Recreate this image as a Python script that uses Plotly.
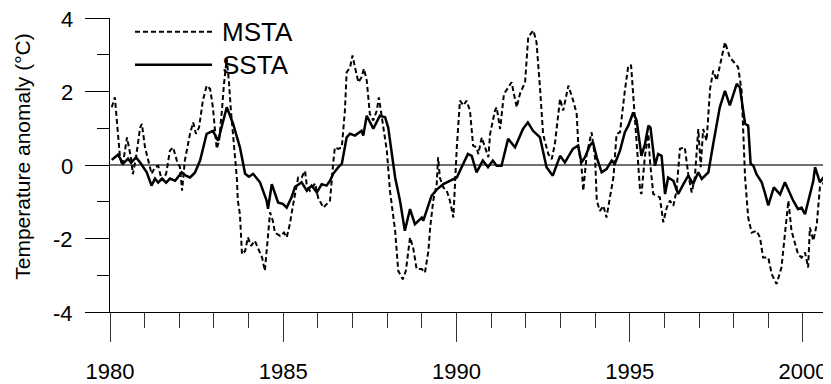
import plotly.graph_objects as go

# ---- data ----
ssta_year = [1980.05, 1980.23, 1980.38, 1980.52, 1980.61, 1980.75, 1980.89, 1981.06, 1981.20, 1981.30,
             1981.39, 1981.50, 1981.62, 1981.73, 1981.88, 1982.07, 1982.19, 1982.31, 1982.45, 1982.60,
             1982.79, 1982.97, 1983.12, 1983.23, 1983.37, 1983.55, 1983.75, 1983.90, 1984.01, 1984.13,
             1984.33, 1984.52, 1984.56, 1984.67, 1984.79, 1984.85, 1984.99, 1985.10, 1985.24, 1985.34,
             1985.53, 1985.68, 1985.82, 1985.97, 1986.11, 1986.25, 1986.35, 1986.44, 1986.59, 1986.69,
             1986.83, 1986.93, 1987.07, 1987.26, 1987.31, 1987.41, 1987.60, 1987.79, 1987.94, 1988.03,
             1988.23, 1988.37, 1988.51, 1988.66, 1988.80, 1989.00, 1989.04, 1989.19, 1989.28, 1989.43,
             1989.62, 1989.81, 1990.01, 1990.10, 1990.33, 1990.44, 1990.58, 1990.76, 1990.91, 1991.05,
             1991.16, 1991.30, 1991.49, 1991.69, 1991.92, 1992.06, 1992.21, 1992.41, 1992.60, 1992.78,
             1992.99, 1993.13, 1993.36, 1993.51, 1993.61, 1993.71, 1993.85, 1993.94, 1994.05, 1994.19,
             1994.33, 1994.48, 1994.57, 1994.72, 1994.86, 1994.96, 1995.10, 1995.20, 1995.34, 1995.44,
             1995.54, 1995.60, 1995.73, 1995.82, 1995.92, 1996.02, 1996.11, 1996.26, 1996.40, 1996.55,
             1996.69, 1996.83, 1996.98, 1997.08, 1997.27, 1997.41, 1997.60, 1997.75, 1997.89, 1998.09,
             1998.18, 1998.33, 1998.42, 1998.49, 1998.57, 1998.66, 1998.81, 1998.90, 1999.00, 1999.16,
             1999.34, 1999.48, 1999.62, 1999.72, 1999.86, 1999.96, 2000.06, 2000.15, 2000.30, 2000.35,
             2000.49, 2000.59, 2000.68, 2000.78]
ssta_val = [0.14, 0.28, 0.04, 0.17, 0.06, 0.21, 0.04, -0.20, -0.56, -0.37,
            -0.48, -0.37, -0.48, -0.37, -0.43, -0.20, -0.29, -0.34, -0.21, 0.12,
            0.85, 0.93, 0.66, 1.07, 1.57, 1.13, 0.48, -0.24, -0.32, -0.24,
            -0.47, -0.97, -1.19, -0.52, -0.84, -1.02, -1.06, -1.16, -0.88, -0.60,
            -0.47, -0.70, -0.56, -0.75, -0.52, -0.56, -0.43, -0.24, -0.06, 0.03,
            0.75, 0.85, 0.80, 0.93, 0.80, 1.34, 0.99, 1.34, 1.30, 1.02,
            -0.34, -0.97, -1.79, -1.20, -1.61, -1.43, -1.52, -1.11, -0.84, -0.67,
            -0.52, -0.43, -0.34, -0.16, 0.30, 0.25, -0.20, 0.12, -0.06, 0.12,
            -0.02, -0.02, 0.71, 0.48, 0.98, 1.16, 0.93, 0.75, -0.06, -0.29,
            0.25, 0.07, 0.44, 0.53, 0.07, 0.21, 0.53, 0.62, 0.20, -0.20,
            -0.11, 0.12, 0.03, 0.39, 0.89, 1.07, 1.43, 1.21, 0.25, 0.57,
            1.07, 1.02, -0.02, 0.30, 0.25, -0.79, -0.34, -0.43, -0.79, -0.52,
            -0.29, -0.52, -0.20, -0.38, -0.20, 0.57, 1.57, 2.02, 1.62, 2.21,
            2.11, 1.12, 1.07, 0.03, -0.02, -0.25, -0.47, -0.75, -1.10, -0.61,
            -0.80, -0.47, -0.75, -0.97, -1.20, -1.16, -1.34, -0.97, -0.43, -0.06,
            -0.47, -0.34, -0.47, -0.38]

msta_year = [1980.05, 1980.14, 1980.23, 1980.29, 1980.35, 1980.40, 1980.49, 1980.55, 1980.61, 1980.66,
             1980.75, 1980.87, 1980.92, 1981.01, 1981.10, 1981.20, 1981.30, 1981.39, 1981.50, 1981.62,
             1981.73, 1981.82, 1981.93, 1982.02, 1982.08, 1982.16, 1982.31, 1982.40, 1982.48, 1982.57,
             1982.68, 1982.79, 1982.89, 1982.97, 1983.08, 1983.15, 1983.23, 1983.29, 1983.37, 1983.43,
             1983.49, 1983.58, 1983.66, 1983.69, 1983.75, 1983.81, 1983.90, 1983.98, 1984.07, 1984.18,
             1984.27, 1984.39, 1984.47, 1984.53, 1984.62, 1984.70, 1984.76, 1984.91, 1985.02, 1985.10,
             1985.19, 1985.28, 1985.37, 1985.43, 1985.53, 1985.63, 1985.68, 1985.77, 1985.92, 1986.01,
             1986.16, 1986.35, 1986.44, 1986.49, 1986.59, 1986.69, 1986.78, 1986.83, 1986.93, 1987.00,
             1987.07, 1987.17, 1987.26, 1987.33, 1987.41, 1987.50, 1987.60, 1987.70, 1987.76, 1987.84,
             1987.99, 1988.08, 1988.23, 1988.32, 1988.45, 1988.54, 1988.66, 1988.75, 1988.85, 1989.00,
             1989.09, 1989.19, 1989.24, 1989.33, 1989.43, 1989.47, 1989.52, 1989.62, 1989.72, 1989.81,
             1989.91, 1990.01, 1990.10, 1990.20, 1990.29, 1990.39, 1990.48, 1990.58, 1990.63, 1990.73,
             1990.82, 1990.92, 1990.97, 1991.11, 1991.16, 1991.26, 1991.37, 1991.50, 1991.59, 1991.74,
             1991.83, 1991.98, 1992.07, 1992.22, 1992.31, 1992.41, 1992.50, 1992.65, 1992.75, 1992.84,
             1992.99, 1993.08, 1993.23, 1993.37, 1993.47, 1993.52, 1993.61, 1993.66, 1993.76, 1993.90,
             1994.00, 1994.05, 1994.14, 1994.24, 1994.33, 1994.43, 1994.53, 1994.62, 1994.72, 1994.86,
             1994.96, 1995.04, 1995.10, 1995.20, 1995.30, 1995.34, 1995.44, 1995.54, 1995.58, 1995.68,
             1995.87, 1995.97, 1996.07, 1996.16, 1996.26, 1996.35, 1996.45, 1996.59, 1996.69, 1996.79,
             1996.88, 1996.98, 1997.05, 1997.12, 1997.22, 1997.32, 1997.41, 1997.51, 1997.60, 1997.75,
             1997.89, 1998.04, 1998.13, 1998.23, 1998.33, 1998.42, 1998.52, 1998.66, 1998.76, 1998.85,
             1999.00, 1999.10, 1999.24, 1999.38, 1999.48, 1999.58, 1999.67, 1999.77, 1999.86, 1999.96,
             2000.06, 2000.15, 2000.20, 2000.30, 2000.40, 2000.49, 2000.59, 2000.68, 2000.78]
msta_val = [1.57, 1.84, 0.85, 0.20, -0.02, 0.20, 0.75, 0.48, 0.17, -0.25,
            0.20, 1.02, 1.12, 0.48, 0.12, -0.24, -0.06, -0.02, -0.43, -0.24,
            0.39, 0.48, 0.12, -0.06, -0.70, 0.12, 0.85, 1.16, 0.85, 1.02,
            1.75, 2.16, 2.07, 1.57, 0.44, 0.66, 1.48, 2.21, 2.89, 2.30,
            1.48, 0.48, -0.34, -0.97, -1.34, -2.43, -2.34, -1.97, -2.20, -2.06,
            -2.25, -2.52, -2.88, -2.25, -1.29, -1.52, -1.84, -1.93, -1.84, -1.97,
            -1.61, -1.11, -0.61, -0.34, -0.34, -0.16, -0.56, -0.70, -0.50, -0.90,
            -1.16, -0.97, 0.03, 0.48, 0.44, 0.48, 1.48, 2.52, 2.66, 2.98,
            2.66, 2.25, 2.39, 2.62, 2.30, 1.39, 1.21, 1.48, 1.84, 1.34,
            0.39, -0.70, -1.79, -2.88, -3.11, -2.88, -1.97, -2.25, -2.83, -2.83,
            -2.93, -2.34, -1.70, -0.97, -0.52, 0.21, -0.34, -0.61, -0.70, -0.97,
            -1.43, 0.48, 1.75, 1.62, 1.75, 1.48, 0.53, 0.48, 0.30, 0.75,
            0.48, 0.21, 0.84, 1.48, 1.57, 0.98, 1.93, 2.11, 2.25, 1.57,
            1.93, 2.25, 3.48, 3.66, 3.34, 2.11, 0.84, 0.30, 0.16, 0.57,
            1.80, 1.48, 2.16, 1.75, 1.39, 0.48, -0.06, -0.70, 0.30, 0.89,
            0.20, -0.97, -1.25, -1.11, -1.43, -0.88, -0.34, 0.84, 0.89, 2.02,
            2.71, 2.71, 1.93, 0.66, -0.70, -0.79, 0.25, 0.84, 0.16, -0.79,
            -0.88, -1.56, -1.16, -0.97, -1.11, -0.70, 0.44, 0.48, -0.25, -0.75,
            -0.34, 0.98, -0.06, 0.98, 0.66, 2.07, 2.57, 2.30, 2.71, 3.34,
            2.93, 2.75, 2.66, 2.02, -0.34, -1.43, -1.84, -1.79, -1.97, -2.52,
            -2.52, -2.97, -3.24, -2.79, -1.88, -0.97, -1.79, -2.11, -2.43, -2.52,
            -2.38, -2.79, -1.70, -2.06, -1.61, -0.61, -0.50, -0.16, -0.06]

series_names = ["MSTA", "SSTA"]
x_range = [1980, 2000.81]
x_tickvals = [1980, 1985, 1990, 1995, 2000]
y_range = [-4, 4]
y_tickvals = [-4, -2, 0, 2, 4]
y_ticktext = ["-4", "-2", "0", "2", "4"]
y_title = "Temperature anomaly (°C)"

TICK_FONT = dict(family="Liberation Sans, Arial", size=22, color="black")

fig = go.Figure()
fig.add_trace(go.Scatter(x=msta_year, y=msta_val, mode="lines", name=series_names[0],
                         line=dict(color="black", width=2, dash="5px,3px"), showlegend=False))
fig.add_trace(go.Scatter(x=ssta_year, y=ssta_val, mode="lines", name=series_names[1],
                         line=dict(color="black", width=2.5), showlegend=False))

# manual legend (line samples + labels)
leg_y = [0.953, 0.841]
leg_dash = ["5px,3px", "solid"]
leg_w = [2, 2.5]
for name, yy, dsh, w in zip(series_names, leg_y, leg_dash, leg_w):
    fig.add_shape(type="line", xref="paper", yref="paper", x0=0.0347, x1=0.1415, y0=yy, y1=yy,
                  line=dict(color="black", width=w, dash=dsh))
    fig.add_annotation(text=name, xref="paper", yref="paper", x=0.153, y=yy, xanchor="left",
                       yanchor="middle", showarrow=False,
                       font=dict(family="Liberation Sans, Arial", size=26, color="black"))

# y tick labels placed at their data values on the y scale
for v, t in zip(y_tickvals, y_ticktext):
    fig.add_annotation(text=t, xref="paper", yref="y", x=0, y=v, xshift=-35, yshift=-1,
                       xanchor="right", yanchor="middle", showarrow=False, font=TICK_FONT)

fig.add_annotation(text=y_title, xref="paper", yref="paper", x=0, xshift=-87, y=0.528,
                   xanchor="center", yanchor="middle", textangle=-90, showarrow=False,
                   font=dict(family="Liberation Sans, Arial", size=21, color="black"))

# the page body has an 8 px margin, so the figure is sized and padded to compensate
fig.update_layout(
    width=823, height=376,
    margin=dict(l=102, r=0, t=10, b=72),
    paper_bgcolor="white", plot_bgcolor="white",
    xaxis=dict(range=x_range, tickvals=x_tickvals, ticks="outside", ticklen=29,
               tickwidth=1, tickcolor="#333", showline=True, linecolor="black", linewidth=1,
               showgrid=False, zeroline=False, tickfont=TICK_FONT, automargin=False,
               ticklabelstandoff=11,
               minor=dict(dtick=1, tick0=1980, ticks="outside", ticklen=15, tickwidth=1,
                          tickcolor="#333", showgrid=False)),
    yaxis=dict(range=y_range, tickvals=y_tickvals, ticks="outside", ticklen=24,
               tickwidth=1.3, tickcolor="black", showline=True, linecolor="black",
               linewidth=1, showgrid=False, zeroline=True, zerolinecolor="#707070",
               zerolinewidth=1.5, showticklabels=False, automargin=False,
               minor=dict(dtick=1, tick0=0, ticks="outside", ticklen=12, tickwidth=1.3,
                          tickcolor="black", showgrid=False)),
)

fig.write_html("out.html")
